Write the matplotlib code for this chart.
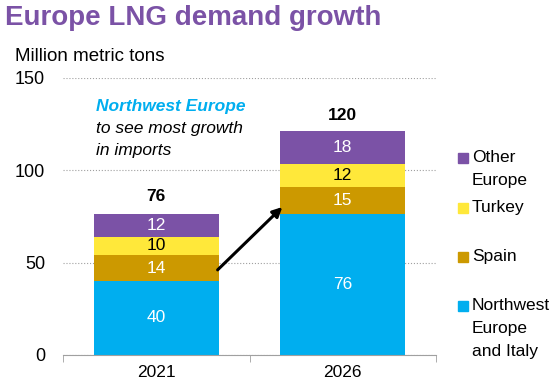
import matplotlib.pyplot as plt
from matplotlib.patches import Rectangle

plt.rcParams['font.family'] = ['Liberation Sans', 'DejaVu Sans']

years = ['2021', '2026']
segments = ['Northwest\nEurope\nand Italy', 'Spain', 'Turkey', 'Other\nEurope']
values = {
    'Northwest\nEurope\nand Italy': [40, 76],
    'Spain': [14, 15],
    'Turkey': [10, 12],
    'Other\nEurope': [12, 18],
}
totals = [76, 120]
colors = ['#00AEEF', '#CC9900', '#FFE83A', '#7B52A6']
text_colors = ['white', 'white', 'black', 'white']

fig = plt.figure(figsize=(5.57, 3.87), dpi=100)
ax = fig.add_axes([0.1131, 0.0827, 0.6697, 0.717])

x = list(range(len(years)))
bottom = [0, 0]
for seg, col, tcol in zip(segments, colors, text_colors):
    vals = values[seg]
    ax.bar(x, vals, bottom=bottom, width=0.67, color=col, zorder=2)
    for i, v in enumerate(vals):
        ax.text(x[i], bottom[i] + v / 2, str(v), ha='center', va='center',
                color=tcol, fontsize=12.5)
    bottom = [b + v for b, v in zip(bottom, vals)]

for i, t in enumerate(totals):
    ax.text(x[i], t + 9.7, str(t), ha='center', va='center',
            fontsize=12.5, fontweight='bold')

ax.set_xlim(-0.5, 1.5)
ax.set_ylim(0, 150)
ax.set_yticks([0, 50, 100, 150])
ax.tick_params(axis='y', length=0, labelsize=13, pad=13)
ax.set_xticks(x)
ax.set_xticklabels(years)
ax.tick_params(axis='x', length=0, labelsize=12.5, pad=7)
ax.set_xticks([-0.5, 0.5, 1.5], minor=True)
ax.tick_params(axis='x', which='minor', length=5, color='#A0A0A0', direction='out')
ax.grid(axis='y', linestyle=':', color='#A0A0A0', linewidth=0.8, zorder=0)
for s in ['top', 'right', 'left']:
    ax.spines[s].set_visible(False)
ax.spines['bottom'].set_color('#A0A0A0')

# growth arrow
ax.annotate('', xy=(0.676, 80), xytext=(0.329, 46),
            arrowprops=dict(arrowstyle='-|>', color='black', lw=2.2,
                            mutation_scale=14, shrinkA=0, shrinkB=0), zorder=5)

# callout text
ax.text(-0.325, 134.5, 'Northwest Europe', color='#00AEEF', fontsize=12.5,
        fontweight='bold', style='italic', va='center')
ax.text(-0.325, 122.5, 'to see most growth', color='black', fontsize=12.5,
        style='italic', va='center')
ax.text(-0.325, 110.5, 'in imports', color='black', fontsize=12.5,
        style='italic', va='center')

fig.text(0.009, 0.953, 'Europe LNG demand growth', color='#7B52A6',
         fontsize=20, fontweight='bold', va='center')
fig.text(0.027, 0.855, 'Million metric tons', fontsize=13.5, va='center')

# legend
legend_items = [
    ('Other\nEurope', colors[3], 158),
    ('Turkey', colors[2], 208),
    ('Spain', colors[1], 257),
    ('Northwest\nEurope\nand Italy', colors[0], 306),
]
for label, col, ypix in legend_items:
    yf = 1 - ypix / 387
    fig.patches.append(Rectangle((458 / 557, yf - 5 / 387), 10 / 557, 10 / 387,
                                 transform=fig.transFigure, color=col))
    fig.text(472 / 557, yf + 8 / 387, label, fontsize=12.5, va='top',
             linespacing=1.68)

fig.savefig('out.png', dpi=100)
